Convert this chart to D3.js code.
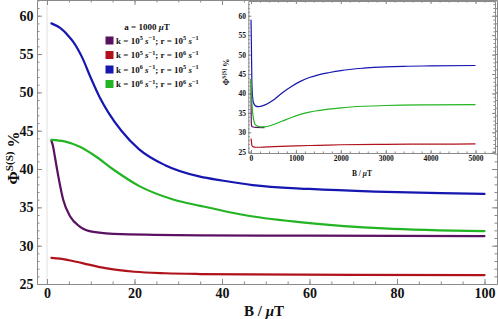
<!DOCTYPE html>
<html>
<head>
<meta charset="utf-8">
<script src="https://cdn.jsdelivr.net/npm/d3@7"></script>
<style>
  body { margin: 0; background: #fff; }
  svg { display: block; }
  text { font-family: "Liberation Serif", "Times New Roman", serif; font-weight: bold; fill: #111; }
</style>
</head>
<body>
<div id="chart"></div>
<script>
const width = 498, height = 319;

// ---- data: [B (µT), Φ %] ----
const purpleMain = [[1,43.7],[1.4,42.9],[1.8,41.6],[2.6,39.0],[3.7,36.0],[5.3,33.8],[7.5,32.5],[10.6,31.8],[17,31.5],[35,31.35],[60,31.3],[100,31.25]];
const redMain    = [[1,28.4],[3,28.3],[5,28.1],[8.3,27.7],[12,27.2],[16,26.85],[20,26.6],[27,26.4],[35,26.3],[46,26.25],[70,26.2],[100,26.15]];
const blueMain   = [[1,59.0],[3,58.4],[5,57.3],[6,56.6],[8,54.6],[10,51.9],[12,49.4],[14,47.4],[17,45.0],[21,42.6],[27,40.5],[35,39.0],[40,38.5],[47,37.9],[60,37.4],[75,37.05],[90,36.85],[100,36.75]];
const greenMain  = [[1,43.8],[4,43.6],[7.5,42.9],[11,41.7],[15,40.0],[21,37.8],[29,36.0],[35,35.2],[46,33.9],[60,32.95],[77,32.25],[100,31.9]];

const purpleInset = [[1,43.7],[3,37],[5,34],[10,31.9],[20,31.5],[50,31.35],[100,31.25],[300,31.2]];
const redInset    = [[1,28.4],[10,27.6],[20,26.6],[50,26.25],[100,26.15],[200,26.15],[500,26.3],[1000,26.5],[1500,26.65],[2000,26.8],[3000,26.9],[4000,26.95],[5000,27.0]];
const blueInset   = [[1,59],[10,51.9],[20,42.6],[50,37.8],[100,36.8],[160,36.6],[300,37.0],[500,38.3],[700,40.2],[900,41.8],[1100,43.1],[1300,44.1],[1500,44.8],[1750,45.4],[2000,45.9],[2500,46.5],[3000,46.85],[3500,47.0],[4000,47.1],[5000,47.2]];
const greenInset  = [[1,43.8],[10,41.8],[20,37.8],[50,33.9],[100,31.9],[200,31.4],[300,31.4],[500,32.0],[700,32.9],[900,33.8],[1100,34.6],[1300,35.2],[1500,35.6],[2000,36.3],[2500,36.7],[3000,36.9],[4000,37.05],[5000,37.1]];

// legend: k and r exponents, colours
const kExp   = [5, 5, 6, 6];
const rExp   = [5, 6, 5, 6];
const colors = ['#5b1162', '#b0121b', '#1616b0', '#22b422'];

const mainTicksX  = [0, 20, 40, 60, 80, 100];
const mainTicksY  = [25, 30, 35, 40, 45, 50, 55, 60];
const insetTicksX = [0, 1000, 2000, 3000, 4000, 5000];
const insetTicksY = [25, 30, 35, 40, 45, 50, 55, 60];

// ---- svg ----
const svg = d3.select('#chart').append('svg')
  .attr('width', width).attr('height', height)
  .attr('viewBox', [0, 0, width, height]);
svg.append('rect').attr('width', width).attr('height', height).attr('fill', '#fff');

const frameColor = '#8a8a8a';

function styleAxis(g, fontSize) {
  g.select('.domain').attr('stroke', frameColor);
  g.selectAll('.tick line').attr('stroke', frameColor);
  g.selectAll('.tick text').attr('font-size', fontSize).attr('fill', '#111')
    .attr('font-family', '"Liberation Serif", serif').attr('font-weight', 'bold');
}

// text with superscripts / italics
function richText(sel, parts, size) {
  let shift = 0;
  parts.forEach(([str, kind = '']) => {
    const sup = kind.includes('sup');
    const t = sel.append('tspan').text(str);
    const target = sup ? -size * 0.38 : 0;
    if (target !== shift) { t.attr('dy', target - shift); shift = target; }
    if (sup) t.attr('font-size', size * 0.7);
    if (kind.includes('it')) t.attr('font-style', 'italic');
  });
}

// draws a framed panel with inward ticks (Mathematica style)
function framePanel(g, x, y, opt) {
  const [x0, x1] = x.range(), [y0, y1] = y.range();
  const fmt = d3.format('d');
  const bottom = g.append('g').attr('transform', `translate(0,${y0})`)
    .call(d3.axisBottom(x).tickValues(opt.ticksX).tickFormat(fmt).tickSizeInner(-opt.major).tickSizeOuter(0).tickPadding(opt.padX));
  styleAxis(bottom, opt.font);
  const left = g.append('g').attr('transform', `translate(${x0},0)`)
    .call(d3.axisLeft(y).tickValues(opt.ticksY).tickFormat(fmt).tickSizeInner(-opt.major).tickSizeOuter(0).tickPadding(opt.padY));
  styleAxis(left, opt.font);
  const top = g.append('g').attr('transform', `translate(0,${y1})`)
    .call(d3.axisTop(x).tickValues(opt.ticksX).tickSizeInner(-opt.major).tickSizeOuter(0).tickFormat(''));
  styleAxis(top, opt.font);
  const right = g.append('g').attr('transform', `translate(${x1},0)`)
    .call(d3.axisRight(y).tickValues(opt.ticksY).tickSizeInner(-opt.major).tickSizeOuter(0).tickFormat(''));
  styleAxis(right, opt.font);

  // minor ticks
  [[d3.axisBottom(x), y0, opt.minorX, 'x'], [d3.axisTop(x), y1, opt.minorX, 'x'],
   [d3.axisLeft(y), x0, opt.minorY, 'y'], [d3.axisRight(y), x1, opt.minorY, 'y']].forEach(([ax, pos, vals, dir]) => {
    const m = g.append('g')
      .attr('transform', dir === 'x' ? `translate(0,${pos})` : `translate(${pos},0)`)
      .call(ax.tickValues(vals).tickSizeInner(-opt.minor).tickSizeOuter(0).tickFormat(''));
    m.select('.domain').remove();
    m.selectAll('.tick line').attr('stroke', frameColor);
  });
}

// ━━━━━━━━━━ Main panel ━━━━━━━━━━
const x = d3.scaleLinear().domain([-2.29, 102.86]).range([37, 497]);
const y = d3.scaleLinear().domain([25, 62.05]).range([284, 0]);

const main = svg.append('g').attr('id', 'main');

main.append('line')
  .attr('x1', x(0)).attr('x2', x(0)).attr('y1', y(25)).attr('y2', y(62.05))
  .attr('stroke', '#d8d8d8').attr('stroke-width', 0.8);

framePanel(main, x, y, {
  ticksX: mainTicksX, ticksY: mainTicksY,
  minorX: d3.range(0, 101, 5), minorY: d3.range(25, 63, 1),
  major: 5, minor: 2.5, padX: 4, padY: 3.5, font: 14
});

const lineMain = d3.line().x(d => x(d[0])).y(d => y(d[1])).curve(d3.curveMonotoneX);
[purpleMain, redMain, blueMain, greenMain].forEach((s, i) => {
  main.append('path').attr('d', lineMain(s))
    .attr('fill', 'none').attr('stroke', colors[i]).attr('stroke-width', 2.2)
    .attr('stroke-linejoin', 'round').attr('stroke-linecap', 'round');
});

// axis labels
richText(main.append('text').attr('x', 264).attr('y', 316).attr('text-anchor', 'middle').attr('font-size', 15),
  [['B / '], ['μ', 'it'], ['T']], 15);
richText(main.append('text').attr('transform', 'translate(19,158) rotate(-90)').attr('text-anchor', 'middle').attr('font-size', 16),
  [['Φ'], ['S(S)', 'sup'], [' %']], 16);

// legend
const legend = main.append('g').attr('id', 'legend');
richText(legend.append('text').attr('x', 147).attr('y', 30).attr('text-anchor', 'middle').attr('font-size', 9),
  [['a = 1000 '], ['μ', 'it'], ['T']], 9);
kExp.forEach((k, i) => {
  const cy = 40.5 + i * 14.5;
  legend.append('rect').attr('x', 105.5).attr('y', cy - 4).attr('width', 8).attr('height', 8).attr('fill', colors[i]);
  richText(legend.append('text').attr('x', 116).attr('y', cy + 3.2).attr('font-size', 9),
    [['k = 10'], [String(k), 'sup'], [' '], ['s', 'it'], ['−1', 'sup'],
     ['; r = 10'], [String(rExp[i]), 'sup'], [' '], ['s', 'it'], ['−1', 'sup']], 9);
});

// ━━━━━━━━━━ Inset ━━━━━━━━━━
const inset = svg.append('g').attr('id', 'inset');

const xi = d3.scaleLinear().domain([-60, 5434]).range([248.3, 495]);
const yi = d3.scaleLinear().domain([24.67, 63.8]).range([153, 1]);

inset.append('rect').attr('x', xi.range()[0]).attr('y', yi.range()[1])
  .attr('width', xi.range()[1] - xi.range()[0]).attr('height', yi.range()[0] - yi.range()[1]).attr('fill', '#fff');

framePanel(inset, xi, yi, {
  ticksX: insetTicksX, ticksY: insetTicksY,
  minorX: d3.range(0, 5401, 200), minorY: d3.range(25, 64, 1),
  major: 3, minor: 1.6, padX: 3, padY: 2.3, font: 7.5
});

const lineInset = d3.line().x(d => xi(d[0])).y(d => yi(d[1])).curve(d3.curveMonotoneX);
[purpleInset, redInset, blueInset, greenInset].forEach((s, i) => {
  inset.append('path').attr('d', lineInset(s))
    .attr('fill', 'none').attr('stroke', colors[i]).attr('stroke-width', 1.2)
    .attr('stroke-linejoin', 'round');
});

richText(inset.append('text').attr('x', 362).attr('y', 175.5).attr('text-anchor', 'middle').attr('font-size', 7.5),
  [['B / '], ['μ', 'it'], ['T']], 7.5);
richText(inset.append('text').attr('transform', 'translate(229,72) rotate(-90)').attr('text-anchor', 'middle').attr('font-size', 8),
  [['Φ'], ['S(S)', 'sup'], [' %']], 8);
</script>
</body>
</html>
